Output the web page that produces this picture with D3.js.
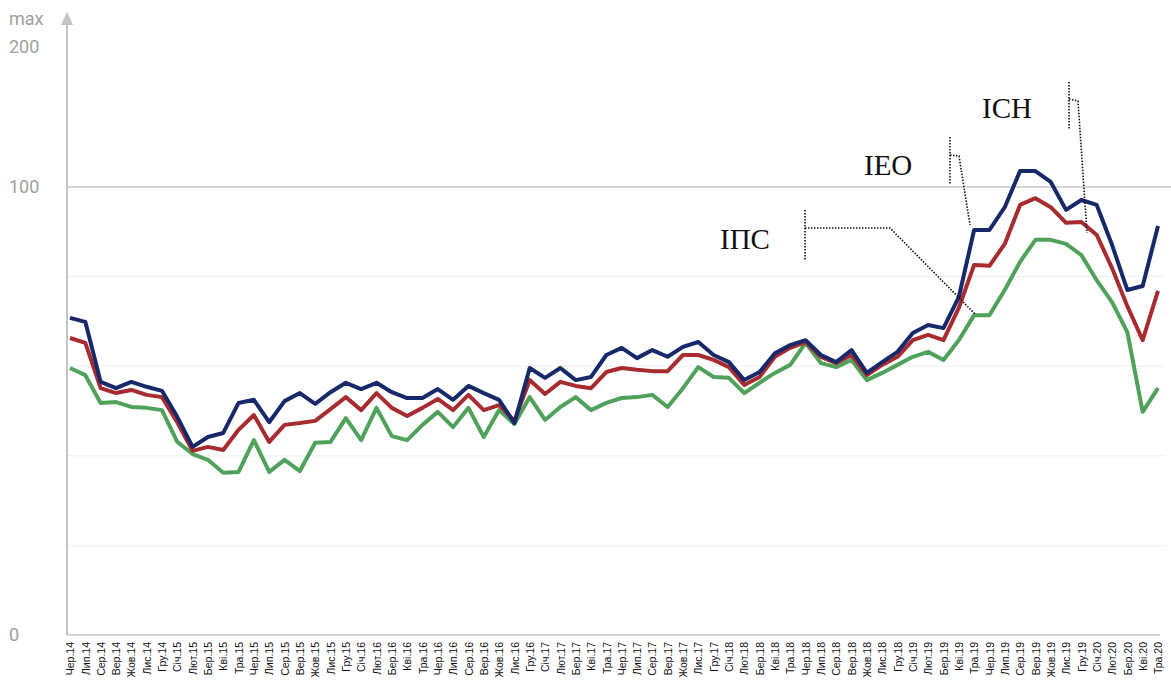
<!DOCTYPE html>
<html>
<head>
<meta charset="utf-8">
<script src="https://cdn.jsdelivr.net/npm/d3@7"></script>
<style>
  body { margin: 0; background: #fff; }
  svg { display: block; }
  .ytick text { font-family: Roboto, "Liberation Sans", Arial, sans-serif; font-size: 18px; fill: #a0a0a0; }
  .xtick text { font-family: "Liberation Sans", Arial, sans-serif; font-size: 10.5px; fill: #111; }
  .note { font-family: "Liberation Serif", "Times New Roman", serif; font-size: 29px; fill: #111; }
</style>
</head>
<body>
<div id="chart"></div>
<script>
// month labels, Чер.14 .. Тра.20
const months = [
  "Чер.14","Лип.14","Сер.14","Вер.14","Жов.14","Лис.14","Гру.14",
  "Січ.15","Лют.15","Бер.15","Кві.15","Тра.15","Чер.15","Лип.15","Сер.15","Вер.15","Жов.15","Лис.15","Гру.15",
  "Січ.16","Лют.16","Бер.16","Кві.16","Тра.16","Чер.16","Лип.16","Сер.16","Вер.16","Жов.16","Лис.16","Гру.16",
  "Січ.17","Лют.17","Бер.17","Кві.17","Тра.17","Чер.17","Лип.17","Сер.17","Вер.17","Жов.17","Лис.17","Гру.17",
  "Січ.18","Лют.18","Бер.18","Кві.18","Тра.18","Чер.18","Лип.18","Сер.18","Вер.18","Жов.18","Лис.18","Гру.18",
  "Січ.19","Лют.19","Бер.19","Кві.19","Тра.19","Чер.19","Лип.19","Сер.19","Вер.19","Жов.19","Лис.19","Гру.19",
  "Січ.20","Лют.20","Бер.20","Кві.20","Тра.20"
];

// ІЕО (blue)
const ieo = [
  70.8, 69.9, 56.5, 55.1, 56.5, 55.4, 54.5, 48.7, 42.0, 44.2, 45.1, 51.8,
  52.5, 47.5, 52.2, 54.0, 51.6, 54.2, 56.3, 54.9, 56.3, 54.2, 52.9, 52.9,
  54.9, 52.5, 55.6, 54.0, 52.5, 47.3, 59.6, 57.4, 59.6, 56.9, 57.6, 62.5,
  64.1, 61.8, 63.6, 62.1, 64.3, 65.4, 62.5, 60.9, 56.9, 58.7, 62.9, 64.7,
  65.8, 62.5, 60.9, 63.6, 58.5, 60.9, 63.2, 67.4, 69.2, 68.5, 75.4, 90.4,
  90.4, 95.5, 111.4, 111.4, 103.6, 94.9, 97.1, 96.0, 87.1, 77.0, 77.9, 91.3
];

// ІСН (red)
const ich = [
  66.3, 65.2, 55.1, 54.0, 54.7, 53.6, 53.1, 47.5, 41.1, 42.0, 41.3, 45.8,
  49.1, 43.1, 46.9, 47.3, 47.8, 50.4, 53.1, 50.2, 54.0, 50.7, 48.9, 50.7,
  52.7, 50.2, 53.6, 50.2, 51.3, 47.8, 56.9, 53.8, 56.5, 55.6, 55.1, 58.7,
  59.6, 59.2, 58.9, 58.9, 62.5, 62.5, 61.4, 59.8, 55.8, 57.6, 62.1, 64.1,
  65.4, 62.1, 60.7, 62.5, 58.0, 60.3, 62.1, 65.8, 67.0, 65.8, 73.0, 82.6,
  82.4, 87.3, 96.0, 97.5, 95.5, 92.0, 92.2, 89.3, 81.9, 73.4, 65.8, 76.8
];

// ІПС (green)
const ips = [
  59.6, 58.0, 51.8, 52.0, 50.9, 50.7, 50.2, 43.1, 40.4, 39.1, 36.2, 36.4,
  43.5, 36.4, 39.1, 36.6, 42.9, 43.1, 48.4, 43.5, 50.7, 44.4, 43.5, 46.9,
  49.8, 46.4, 50.7, 44.2, 50.2, 47.1, 53.1, 48.0, 50.9, 53.1, 50.2, 51.8,
  52.9, 53.1, 53.6, 50.9, 55.1, 59.8, 57.6, 57.4, 54.0, 56.3, 58.5, 60.3,
  65.2, 60.7, 59.8, 61.4, 56.9, 58.5, 60.3, 62.1, 63.2, 61.4, 65.8, 71.4,
  71.4, 77.0, 83.3, 88.2, 88.2, 87.3, 84.8, 79.2, 74.3, 67.6, 49.8, 55.1
];

const yTicks = [0, 100, 200];
const gridValues = [20, 40, 60, 80];

const series = [
  { name: "ІПС", values: ips, color: "#4ea25a" },
  { name: "ІСН", values: ich, color: "#a82c2f" },
  { name: "ІЕО", values: ieo, color: "#17296a" }
];

const width = 1171, height = 688;
const left = 67, right = 1160, bottom = 635;

const svg = d3.select("#chart").append("svg")
  .attr("width", width)
  .attr("height", height);

const x = d3.scalePoint().domain(months).range([70, 1158]);
// broken scale: the part above 100 is squeezed
const y = d3.scaleLinear().domain([0, 100, 200]).range([bottom, 187, 47]);

// grid
svg.append("g").selectAll("line")
  .data(gridValues)
  .enter().append("line")
  .attr("x1", left).attr("x2", 1165)
  .attr("y1", d => y(d)).attr("y2", d => y(d))
  .attr("stroke", "#efefef")
  .attr("stroke-width", 1);

svg.append("line")
  .attr("x1", left).attr("x2", 1171)
  .attr("y1", y(100)).attr("y2", y(100))
  .attr("stroke", "#c8c8c8")
  .attr("stroke-width", 1.5);

// y axis
const yAxis = svg.append("g")
  .attr("class", "ytick")
  .attr("transform", `translate(${left},0)`)
  .call(d3.axisLeft(y).tickValues(yTicks).tickSize(0).tickFormat(d3.format("d")));
yAxis.select(".domain").remove();
yAxis.selectAll("text")
  .attr("text-anchor", "start")
  .attr("x", 9 - left)
  .attr("dy", "0.32em");

svg.append("line")
  .attr("x1", left).attr("x2", left)
  .attr("y1", 20).attr("y2", bottom)
  .attr("stroke", "#c4c4c4")
  .attr("stroke-width", 2);
svg.append("path")
  .attr("d", `M${left - 6},25L${left},12L${left + 6},25Z`)
  .attr("fill", "#c4c4c4");
svg.append("text")
  .attr("x", 9).attr("y", 25)
  .style("font-family", "Roboto, 'Liberation Sans', Arial, sans-serif")
  .style("font-size", "18px")
  .style("fill", "#a0a0a0")
  .text("max");

// x axis
svg.append("line")
  .attr("x1", left).attr("x2", right)
  .attr("y1", bottom).attr("y2", bottom)
  .attr("stroke", "#c4c4c4")
  .attr("stroke-width", 1.5);

const xAxis = svg.append("g")
  .attr("class", "xtick")
  .attr("transform", `translate(0,${bottom})`)
  .call(d3.axisBottom(x).tickSize(0));
xAxis.select(".domain").remove();
xAxis.selectAll("text")
  .attr("transform", "rotate(-90)")
  .attr("text-anchor", "end")
  .attr("x", -7)
  .attr("y", 0)
  .attr("dy", "0.35em");

// lines
const line = d3.line()
  .x((d, i) => x(months[i]))
  .y(d => y(d));

svg.append("g").selectAll("path")
  .data(series)
  .enter().append("path")
  .attr("fill", "none")
  .attr("stroke", d => d.color)
  .attr("stroke-width", 4)
  .attr("stroke-linejoin", "round")
  .attr("d", d => line(d.values));

// callouts
const notes = [
  { name: "ІПС", tx: 720, ty: 249, path: [[805, 210], [805, 260], null, [805, 228], [890, 228], [975, 314]] },
  { name: "ІЕО", tx: 864, ty: 175, path: [[950, 137], [950, 185], null, [950, 155], [959, 156], [970, 225]] },
  { name: "ІСН", tx: 982, ty: 118, path: [[1069, 82], [1069, 130], null, [1069, 99], [1078, 101], [1087, 233]] }
];

const dotted = d3.line().defined(d => d !== null);
notes.forEach(n => {
  svg.append("text")
    .attr("class", "note")
    .attr("x", n.tx).attr("y", n.ty)
    .text(n.name);
  svg.append("path")
    .attr("d", dotted(n.path))
    .attr("fill", "none")
    .attr("stroke", "#111")
    .attr("stroke-width", 1.6)
    .attr("stroke-dasharray", "1.5,1.5");
});
</script>
</body>
</html>
